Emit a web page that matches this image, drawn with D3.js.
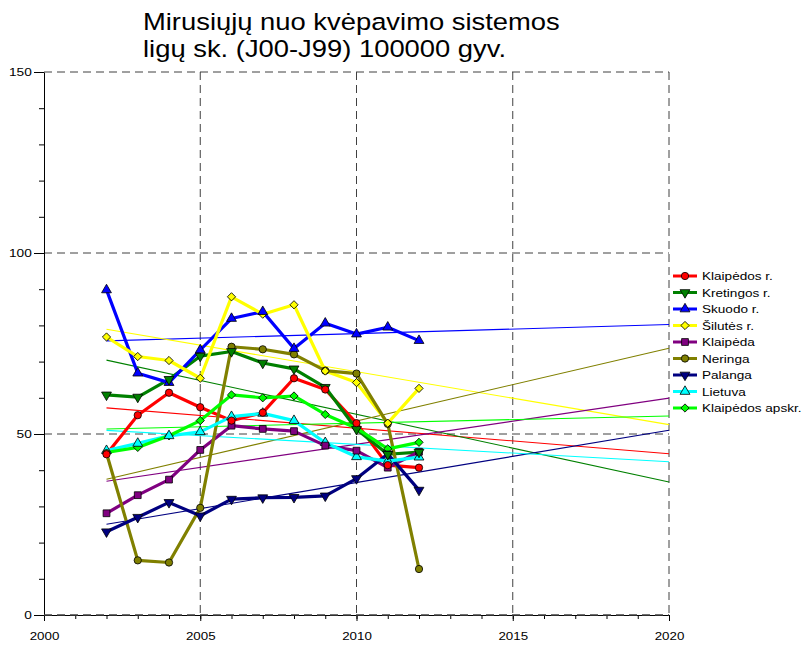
<!DOCTYPE html>
<html><head><meta charset="utf-8">
<script src="https://cdn.jsdelivr.net/npm/d3@7"></script>
<style>body{margin:0;background:#fff} svg{display:block} text{font-family:"Liberation Sans",Arial,sans-serif;fill:#000}</style>
</head><body><script>
const years = [2002,2003,2004,2005,2006,2007,2008,2009,2010,2011,2012];
const seriesNames = ["Klaipėdos r.","Kretingos r.","Skuodo r.","Šilutės r.","Klaipėda","Neringa","Palanga","Lietuva","Klaipėdos apskr."];
const klaipedosR     = [44.4,55.2,61.4,57.4,53.7,55.9,65.4,62.3,53.0,41.4,40.7];
const kretingosR     = [60.8,60.2,65.1,71.5,72.8,69.6,68.0,62.9,51.3,44.4,45.0];
const skuodoR        = [89.8,66.8,64.2,73.2,81.9,83.8,73.6,80.6,77.6,79.5,75.8];
const silutesR       = [76.8,71.4,70.3,65.4,87.9,83.1,85.7,67.4,64.2,53.0,62.6];
const klaipeda       = [28.1,33.1,37.4,45.6,52.3,51.4,50.8,46.8,45.4,40.7,45.1];
const neringa        = [44.7,15.1,14.5,29.6,74.1,73.4,72.0,67.5,66.7,52.8,12.7];
const palanga        = [23.0,27.0,31.1,27.4,32.0,32.4,32.5,32.9,37.7,44.5,34.5];
const lietuva        = [45.4,47.4,49.5,50.6,54.8,55.7,53.7,47.6,43.7,42.5,43.6];
const klaipedosApskr = [44.9,46.3,49.5,53.7,60.8,60.0,60.5,55.4,51.6,45.9,47.7];
const xTicks = [2000,2005,2010,2015,2020];
const yTicks = [0,50,100,150];
const titleLines = ["Mirusiųjų nuo kvėpavimo sistemos","ligų sk. (J00-J99) 100000 gyv."];

const colors = ["#ff0000","#008000","#0000ff","#ffff00","#800080","#808000","#000080","#00ffff","#00ff00"];
const shapes = ["circle","tdown","tup","diamond","square","circle","tdown","tup","diamond"];
const allValues = [klaipedosR,kretingosR,skuodoR,silutesR,klaipeda,neringa,palanga,lietuva,klaipedosApskr];

const W=804,H=648, SX=1.16;
const svg = d3.select("body").append("svg").attr("width",W).attr("height",H);
const x = d3.scaleLinear().domain([2000,2020]).range([44,669]);
const y = d3.scaleLinear().domain([0,150]).range([615,72]);

// title
titleLines.forEach((t,i)=>{
  svg.append("text").attr("transform",`translate(143,${30+i*27}) scale(1.165,1)`)
    .style("font-size","23.5px").text(t);
});

// grid
const grid = svg.append("g").attr("stroke","#404040").attr("stroke-width",1).attr("stroke-dasharray","8,5");
[50,100,150].forEach(v=>grid.append("line").attr("x1",x(2000)).attr("x2",x(2020)).attr("y1",y(v)).attr("y2",y(v)));
[2005,2010,2015,2020].forEach(v=>grid.append("line").attr("x1",x(v)).attr("x2",x(v)).attr("y1",y(150)).attr("y2",y(0)));

// axes
const xMinor = svg.append("g").attr("transform",`translate(0,${y(0)})`)
  .call(d3.axisBottom(x).tickValues(d3.range(2000,2021)).tickSize(4).tickFormat(""));
xMinor.select(".domain").remove();
const xAx = svg.append("g").attr("transform",`translate(0,${y(0)})`)
  .call(d3.axisBottom(x).tickValues(xTicks).tickSize(6).tickSizeOuter(0).tickPadding(11).tickFormat(d3.format("d")));
xAx.selectAll("text").style("font-size","11.5px").attr("transform",`scale(${SX},1)`);
const yMinor = svg.append("g").attr("transform",`translate(${x(2000)},0)`)
  .call(d3.axisLeft(y).tickValues(d3.range(0,151,10)).tickSize(5).tickFormat(""));
yMinor.select(".domain").remove();
const yAx = svg.append("g").attr("transform",`translate(${x(2000)},0)`)
  .call(d3.axisLeft(y).tickValues(yTicks).tickSize(10).tickSizeOuter(0).tickPadding(0.5));
yAx.selectAll("text").style("font-size","11.8px").attr("transform",`scale(${SX},1)`);
svg.selectAll(".tick line").attr("stroke","#000");
svg.append("line").attr("x1",x(2000)).attr("x2",x(2020)).attr("y1",y(0)).attr("y2",y(0))
  .attr("stroke","#404040").attr("stroke-dasharray","8,5").attr("stroke-width",1.3);

// marker generator
function marker(sel, shape, color){
  let g;
  if(shape==="circle") g=d3.symbol(d3.symbolCircle,42);
  else if(shape==="square") g=d3.symbol(d3.symbolSquare,46);
  else if(shape==="diamond") g=d3.symbol(d3.symbolSquare,34);
  else g=d3.symbol(d3.symbolTriangle,42);
  sel.append("path").attr("d",g()).attr("fill",color).attr("stroke","#000").attr("stroke-width",0.8)
    .attr("transform",shape==="diamond"?"rotate(45)":shape==="tdown"?"rotate(180)":null);
}

// trend lines (least squares)
allValues.forEach((vals,i)=>{
  const mx=d3.mean(years), my=d3.mean(vals);
  const b=d3.sum(years,(t,k)=>(t-mx)*(vals[k]-my))/d3.sum(years,t=>(t-mx)*(t-mx));
  const a=my-b*mx;
  svg.append("line").attr("x1",x(2002)).attr("y1",y(a+b*2002)).attr("x2",x(2020)).attr("y2",y(a+b*2020))
    .attr("stroke",colors[i]).attr("stroke-width",1.1);
});

// series lines
const line = d3.line().x((d,k)=>x(years[k])).y(d=>y(d));
allValues.forEach((vals,i)=>{
  svg.append("path").attr("d",line(vals)).attr("fill","none").attr("stroke",colors[i]).attr("stroke-width",3.2).attr("stroke-linejoin","round");
});
// markers (first series on top)
allValues.slice().reverse().forEach((vals,ri)=>{
  const i=allValues.length-1-ri;
  vals.forEach((v,k)=>{
    const g=svg.append("g").attr("transform",`translate(${x(years[k])},${y(v)})`);
    marker(g,shapes[i],colors[i]);
  });
});

// legend
seriesNames.forEach((name,i)=>{
  const yy=276+i*16.5;
  const g=svg.append("g").attr("transform",`translate(673,${yy})`);
  g.append("line").attr("x1",0).attr("x2",24).attr("stroke",colors[i]).attr("stroke-width",3);
  const m=g.append("g").attr("transform","translate(12,0)");
  marker(m,shapes[i],colors[i]);
  g.append("text").attr("transform",`translate(29,0) scale(${SX},1)`).attr("dy","0.35em").style("font-size","11.7px").text(name);
});
</script></body></html>
